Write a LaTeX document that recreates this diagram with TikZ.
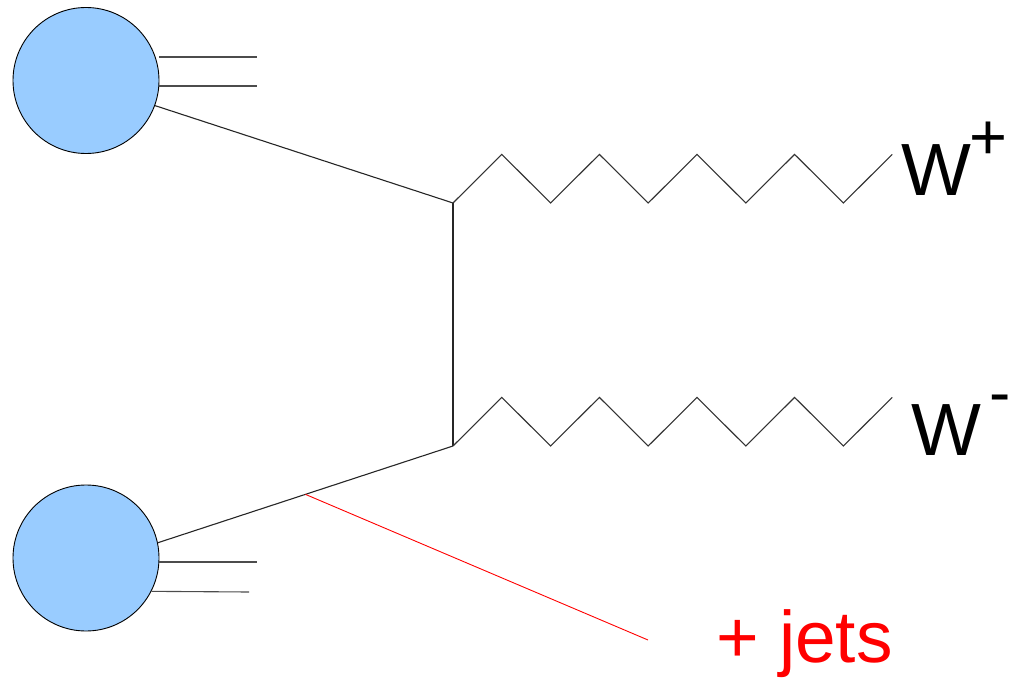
\documentclass[tikz,border=0pt]{standalone}
\usepackage{fontspec}
\setmainfont{Liberation Sans}
\usetikzlibrary{calc}
\definecolor{partonblue}{HTML}{99CCFF}
\tikzset{
  hadron/.style={circle, draw=black, line width=0.9pt, fill=partonblue,
    minimum size=146pt, inner sep=0pt},
  quark/.style={line width=1.1pt, black!85},
  spectator/.style={line width=1.1pt, black!70},
  boson/.style={line width=1.1pt, black!80, line join=miter},
  jetline/.style={line width=0.9pt, red},
  bigtext/.style={inner sep=0pt, anchor=base west, font=\fontsize{74}{80}\selectfont},
}
% one zigzag tooth pair: down-up in picture coordinates (y grows downward)
\newcommand\zigpair{-- ++(48.8,-48.6) -- ++(48.8,48.6)}
\begin{document}
\begin{tikzpicture}[x=1pt,y=-1pt]
  \useasboundingbox (0,0) rectangle (1011,684);

  % incoming hadrons
  \node[hadron] (h1) at (86,80.5) {};
  \node[hadron] (h2) at (86,558) {};

  % free ends of the spectator lines
  \coordinate (s1a) at (257,57);
  \coordinate (s1b) at (257,86);
  \coordinate (s2a) at (257,562);
  \coordinate (s2b) at (249,592);
  \draw[spectator] (h1.east |- s1a) -- (s1a);
  \draw[spectator] (h1.east |- s1b) -- (s1b);
  \draw[spectator] (h2.east |- s2a) -- (s2a);
  \draw[spectator] (h2.-27.8) -- (s2b);

  % t-channel vertices
  \coordinate (v1) at (453,203);
  \coordinate (v2) at (453,446);
  \draw[quark] (h1.-20) -- (v1);
  \draw[quark] (h2.12) -- (v2);
  \draw[quark] (v1) -- (v2);

  % extra radiation from the lower quark line
  \coordinate (jetfrom) at ($(h2.12)!0.5!(v2)$);
  \coordinate (jetto) at (648,640);
  \draw[jetline] (jetfrom) -- (jetto);

  % outgoing W bosons
  \draw[boson] (v1) \zigpair \zigpair \zigpair \zigpair -- ++(48.8,-48.6) coordinate (w1);
  \draw[boson] (v2) \zigpair \zigpair \zigpair \zigpair -- ++(48.8,-48.6) coordinate (w2);

  % labels
  \node[bigtext] (lwp) at (901,196)
    {W\kern-1.5pt\raisebox{36pt}{\fontsize{65}{65}\selectfont +}};
  \node[bigtext] (lwm) at (911,455)
    {W\kern8pt\raisebox{41pt}{\fontsize{64}{64}\selectfont -}};
  \node[bigtext, text=red, font=\fontsize{73}{78}\selectfont] (ljets) at (716,662) {+ jets};
\end{tikzpicture}
\end{document}
